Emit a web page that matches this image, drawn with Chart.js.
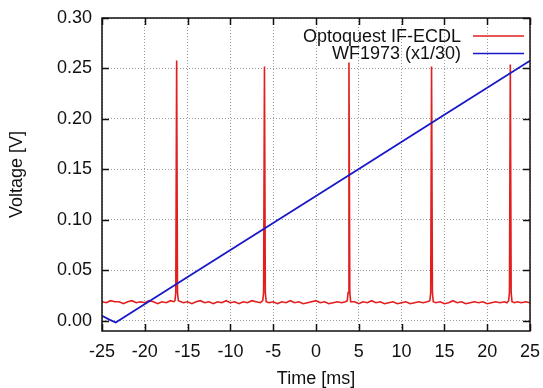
<!DOCTYPE html>
<html>
<head>
<meta charset="utf-8">
<script src="https://cdn.jsdelivr.net/npm/chart.js@4.4.1/dist/chart.umd.min.js"></script>
<style>
  html, body { margin: 0; padding: 0; background: #fff; }
  #wrap { width: 543px; height: 388px; }
</style>
</head>
<body>
<div id="wrap"><canvas id="grafico" width="543" height="388"></canvas></div>
<script>
// laser transmission (red) - time in ms, voltage in V
var redTime = [
  -25, -24.5, -24, -23.5, -23, -22.5, -22, -21.5, -21, -20.5, -20, -19.5, -19, -18.5, -18, -17.5, -17, -16.6,
  -16.48, -16.38, -16.28, -16.18, -16.08,
  -15.5, -15, -14.5, -14, -13.5, -13, -12.5, -12, -11.5, -11, -10.5, -10, -9.5, -9, -8.5, -8, -7.5, -7, -6.5,
  -6.22, -6.12, -6.02, -5.92, -5.82,
  -5.5, -5, -4.5, -4, -3.5, -3, -2.5, -2, -1.5, -1, -0.5, 0, 0.5, 1, 1.5, 2, 2.5, 3, 3.45,
  3.65, 3.75, 3.85, 3.95, 4.05,
  4.5, 5, 5.5, 6, 6.5, 7, 7.5, 8, 8.5, 9, 9.5, 10, 10.5, 11, 11.5, 12, 12.5, 13,
  13.3, 13.4, 13.5, 13.6, 13.7,
  14, 14.5, 15, 15.5, 16, 16.5, 17, 17.5, 18, 18.5, 19, 19.5, 20, 20.5, 21, 21.5, 22, 22.3,
  22.5, 22.6, 22.7, 22.8, 22.9,
  23.2, 23.5, 24, 24.5, 25
];
var redVolt = [
  0.019, 0.018, 0.020, 0.019, 0.019, 0.017, 0.019, 0.020, 0.018, 0.019, 0.018, 0.020, 0.019, 0.017, 0.019, 0.018, 0.020, 0.019,
  0.020, 0.028, 0.258, 0.028, 0.020,
  0.018, 0.019, 0.017, 0.019, 0.020, 0.018, 0.019, 0.017, 0.019, 0.018, 0.020, 0.018, 0.019, 0.017, 0.019, 0.018, 0.020, 0.019, 0.018,
  0.020, 0.028, 0.252, 0.028, 0.019,
  0.018, 0.019, 0.017, 0.019, 0.018, 0.020, 0.018, 0.019, 0.017, 0.018, 0.019, 0.020, 0.018, 0.019, 0.017, 0.018, 0.019, 0.018, 0.019,
  0.020, 0.028, 0.256, 0.028, 0.019,
  0.019, 0.017, 0.019, 0.018, 0.020, 0.018, 0.019, 0.017, 0.018, 0.019, 0.017, 0.018, 0.019, 0.017, 0.018, 0.019, 0.018, 0.019,
  0.020, 0.028, 0.252, 0.028, 0.019,
  0.018, 0.019, 0.017, 0.018, 0.020, 0.018, 0.019, 0.017, 0.018, 0.019, 0.018, 0.019, 0.017, 0.018, 0.019, 0.018, 0.019, 0.018,
  0.020, 0.028, 0.254, 0.028, 0.019,
  0.018, 0.019, 0.018, 0.019, 0.018
];
// WF1973 ramp (scaled x1/30)
var blueTime = [-25, -24.2, -23.4, -15, -5, 5, 15, 25];
var blueVolt = [0.005, 0.0015, -0.0016, 0.0434, 0.0969, 0.1505, 0.2041, 0.2577];

var xTicks = [-25, -20, -15, -10, -5, 0, 5, 10, 15, 20, 25];
var yTicks = [0.00, 0.05, 0.10, 0.15, 0.20, 0.25, 0.30];
var xRange = [-25, 25];
var yRange = [-0.01, 0.30];

var etiquetas = ['Optoquest IF-ECDL', 'WF1973 (x1/30)'];
var colores = ['rgb(226, 30, 30)', 'rgb(24, 24, 200)'];

function puntos(xs, ys) {
  return xs.map(function (x, i) { return { x: x, y: ys[i] }; });
}

var fuente = 'Liberation Sans, Arial, sans-serif';

// gnuplot style frame with inward ticks on all sides
var marco = {
  id: 'marco',
  beforeDraw: function (chart) {
    var ctx = chart.ctx;
    ctx.save();
    ctx.fillStyle = '#fff';
    ctx.fillRect(0, 0, chart.width, chart.height);
    ctx.restore();
  },
  afterDatasetsDraw: function (chart) {
    var ctx = chart.ctx, a = chart.chartArea;
    var sx = chart.scales.x, sy = chart.scales.y;
    var largo = 7;
    ctx.save();
    ctx.strokeStyle = '#111';
    ctx.lineWidth = 1.5;
    ctx.beginPath();
    sx.ticks.forEach(function (t) {
      var px = Math.round(sx.getPixelForValue(t.value)) + 0.5;
      ctx.moveTo(px, a.bottom); ctx.lineTo(px, a.bottom - largo);
      ctx.moveTo(px, a.top); ctx.lineTo(px, a.top + largo);
    });
    sy.ticks.forEach(function (t) {
      var py = Math.round(sy.getPixelForValue(t.value)) + 0.5;
      ctx.moveTo(a.left, py); ctx.lineTo(a.left + largo, py);
      ctx.moveTo(a.right, py); ctx.lineTo(a.right - largo, py);
    });
    ctx.stroke();
    ctx.strokeRect(a.left, a.top, a.right - a.left, a.bottom - a.top);

    // legend, text right aligned with the line sample after it
    ctx.font = '18px ' + fuente;
    ctx.textAlign = 'right';
    ctx.textBaseline = 'middle';
    var filas = [36, 53.5];
    chart.data.datasets.forEach(function (ds, i) {
      ctx.fillStyle = '#111';
      ctx.fillText(ds.label, 461, filas[i] + 1);
      ctx.strokeStyle = ds.borderColor;
      ctx.lineWidth = 1.5;
      ctx.beginPath();
      ctx.moveTo(473, filas[i]);
      ctx.lineTo(524, filas[i]);
      ctx.stroke();
    });
    ctx.restore();
  }
};

var ctx = document.getElementById('grafico');
var grafico = new Chart(ctx, {
  type: 'line',
  data: {
    datasets: [{
      label: etiquetas[0],
      data: puntos(redTime, redVolt),
      borderColor: colores[0],
      borderWidth: 1.6,
      pointRadius: 0,
      tension: 0,
      order: 1
    }, {
      label: etiquetas[1],
      data: puntos(blueTime, blueVolt),
      borderColor: colores[1],
      borderWidth: 1.8,
      pointRadius: 0,
      tension: 0,
      order: 0
    }]
  },
  plugins: [marco],
  options: {
    responsive: false,
    animation: false,
    layout: { padding: { left: 0, right: 13, top: 18, bottom: 0 } },
    plugins: {
      legend: false,
      tooltip: { enabled: false }
    },
    scales: {
      x: {
        type: 'linear',
        min: xRange[0],
        max: xRange[1],
        afterBuildTicks: function (s) {
          s.ticks = xTicks.map(function (v) { return { value: v }; });
        },
        afterFit: function (s) {
          s.height = 57;
          s.paddingLeft = 0;
          s.paddingRight = 0;
        },
        ticks: {
          padding: 10,
          color: '#111',
          font: { family: fuente, size: 18 },
          maxRotation: 0,
          autoSkip: false,
          callback: function (v) { return String(v); }
        },
        grid: { color: '#9a9a9a', lineWidth: 1, drawTicks: false },
        border: { display: false, dash: [1, 2] },
        title: {
          display: true,
          text: 'Time [ms]',
          color: '#111',
          font: { family: fuente, size: 18, lineHeight: 1 },
          padding: { top: 0, bottom: 0 }
        }
      },
      y: {
        type: 'linear',
        min: yRange[0],
        max: yRange[1],
        afterBuildTicks: function (s) {
          s.ticks = yTicks.map(function (v) { return { value: v }; });
        },
        afterFit: function (s) {
          s.width = 102;
          s.paddingTop = 0;
          s.paddingBottom = 0;
        },
        ticks: {
          padding: 10,
          color: '#111',
          font: { family: fuente, size: 18 },
          autoSkip: false,
          callback: function (v) { return Number(v).toFixed(2); }
        },
        grid: { color: '#9a9a9a', lineWidth: 1, drawTicks: false },
        border: { display: false, dash: [1, 2] },
        title: {
          display: true,
          text: 'Voltage [V]',
          color: '#111',
          font: { family: fuente, size: 18, lineHeight: 1 },
          padding: { top: 8, bottom: 0 }
        }
      }
    }
  }
});
</script>
</body>
</html>
